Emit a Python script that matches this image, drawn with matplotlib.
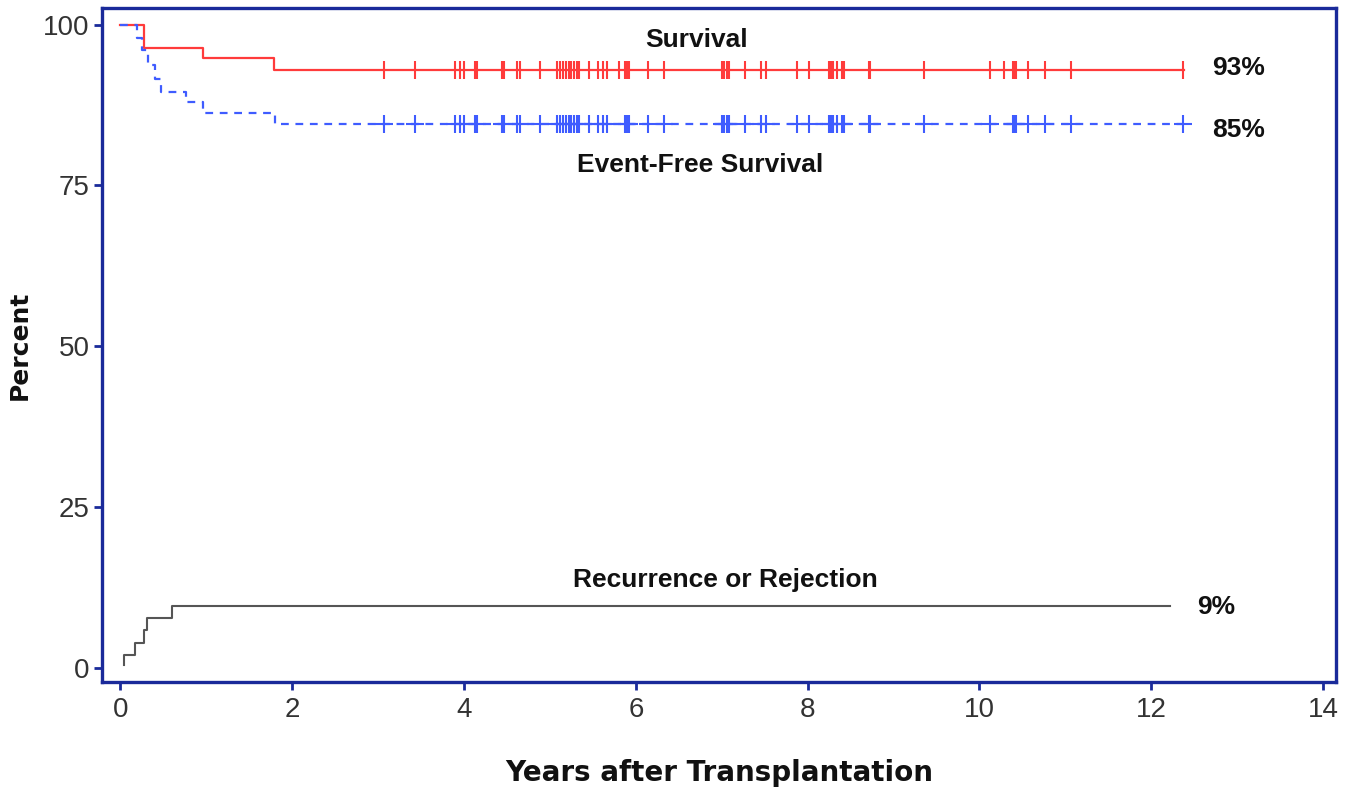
import numpy as np
from matplotlib import pyplot as plt

# Kaplan-Meier style curves (years, percent)
surv_t = [0, 0.27, 0.96, 1.79, 12.38]
surv_v = [100, 96.4, 94.8, 93.0, 93.0]

efs_t = [0, 0.19, 0.25, 0.32, 0.40, 0.47, 0.76, 0.96, 1.80, 12.38]
efs_v = [100, 98.0, 96.0, 93.8, 91.6, 89.5, 88.0, 86.3, 84.5, 84.5]

rec_t = [0.04, 0.04, 0.17, 0.27, 0.31, 0.60, 12.22]
rec_v = [0.4, 1.9, 3.8, 5.8, 7.7, 9.6, 9.6]

# censored observations
surv_cens = [3.07, 3.43, 3.90, 3.95, 4.00, 4.13, 4.15, 4.44, 4.46, 4.62, 4.65, 4.88,
             5.08, 5.12, 5.15, 5.19, 5.22, 5.25, 5.28, 5.31, 5.34, 5.45, 5.56, 5.62,
             5.66, 5.80, 5.87, 5.90, 5.92, 6.14, 6.33, 7.00, 7.03, 7.06, 7.08, 7.27,
             7.46, 7.52, 7.87, 8.02, 8.25, 8.27, 8.29, 8.34, 8.40, 8.42, 8.71, 8.72,
             9.35, 10.12, 10.28, 10.39, 10.41, 10.43, 10.57, 10.76, 11.07, 12.37]
efs_cens = [c for c in surv_cens if c not in (5.80, 10.28)]

labels = {"surv": "Survival", "efs": "Event-Free Survival", "rec": "Recurrence or Rejection"}
final_pct = {"surv": "93%", "efs": "85%", "rec": "9%"}


def level_at(t, v, x):
    t = np.asarray(t)
    v = np.asarray(v)
    return v[np.searchsorted(t, x, side='right') - 1]


red = '#ff3b3b'
blue = '#3f5cff'
gray = '#555555'
navy = '#1a2a9a'

fig = plt.figure(figsize=(13.58, 7.90), dpi=100)
ax = fig.add_axes([0.0751, 0.1367, 0.9087, 0.8532])

ax.step(surv_t, surv_v, where='post', color=red, lw=1.6)
ax.step(efs_t, efs_v, where='post', color=blue, lw=1.6, dashes=(3.5, 3))
ax.step(rec_t, rec_v, where='post', color=gray, lw=1.5)

ax.plot(surv_cens, level_at(surv_t, surv_v, surv_cens), ls='none', marker='|',
        ms=13, mew=1.5, color=red)
ax.plot(efs_cens, level_at(efs_t, efs_v, efs_cens), ls='none', marker='+',
        ms=13, mew=1.5, color=blue)

tfont = dict(family='Liberation Sans', weight='bold', fontsize=19, color='#111111')
ax.text(6.71, 97.6, labels["surv"], ha='center', va='center', **tfont)
ax.text(6.75, 78.1, labels["efs"], ha='center', va='center', **tfont)
ax.text(7.04, 13.6, labels["rec"], ha='center', va='center', **tfont)
ax.text(13.01, 93.2, final_pct["surv"], ha='center', va='center', **tfont)
ax.text(13.01, 83.6, final_pct["efs"], ha='center', va='center', **tfont)
ax.text(12.75, 9.4, final_pct["rec"], ha='center', va='center', **tfont)

ax.set_xlim(-0.215, 14.15)
ax.set_ylim(-2.25, 102.6)
ax.set_xticks(np.arange(0, 15, 2))
ax.set_yticks([0, 25, 50, 75, 100])

for s in ax.spines.values():
    s.set_color(navy)
    s.set_linewidth(2.4)
ax.tick_params(direction='out', length=6, width=2, color=navy,
               labelsize=20, labelcolor='#333333')
ax.tick_params(axis='x', pad=5)
ax.tick_params(axis='y', pad=3)
for lab in ax.get_xticklabels() + ax.get_yticklabels():
    lab.set_family('Liberation Sans')

ax.set_xlabel("Years after Transplantation", family='DejaVu Sans', weight='bold',
              fontsize=20, color='#111111', labelpad=26)
ax.set_ylabel("Percent", family='DejaVu Sans', weight='bold', fontsize=18,
              color='#111111', labelpad=8)

plt.savefig('out.png', dpi=100)
